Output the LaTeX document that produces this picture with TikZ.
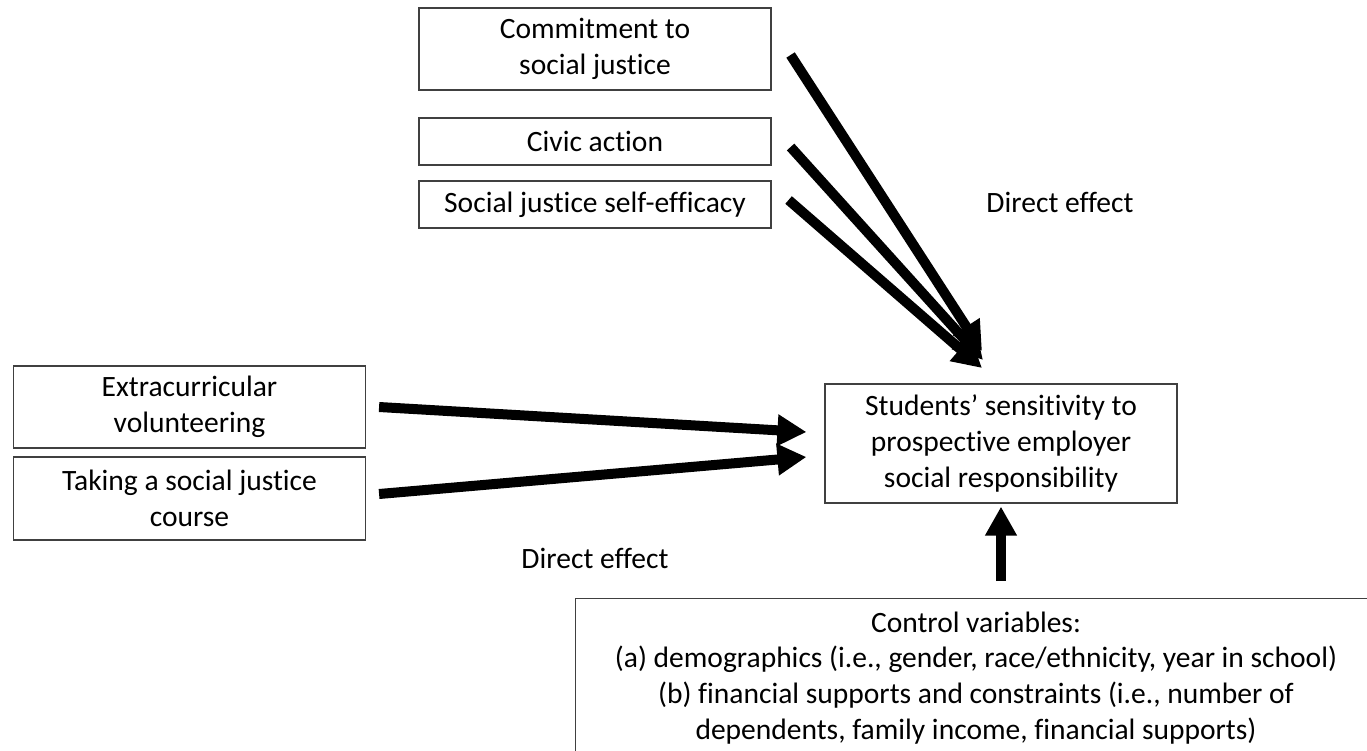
\documentclass[tikz,border=0pt]{standalone}
\usepackage{fontspec}
\setmainfont[Ligatures={NoCommon}]{Carlito}
\usetikzlibrary{arrows.meta}
\begin{document}
\begin{tikzpicture}[x=0.02cm, y=-0.02cm,
  every node/.style={font=\fontsize{16.8pt}{20.4pt}\selectfont, inner sep=0pt},
  varbox/.style={draw=black!75, line width=0.7pt, minimum width=7.04cm, align=center},
  label/.style={align=center},
  effect/.style={line width=0.2cm, -{Triangle[length=0.58cm, width=0.6cm]}}]
\useasboundingbox (0,0) rectangle (1367,751);
\clip (0,0) rectangle (1367,751);

% predictor boxes, top column
\node[varbox, minimum height=1.64cm] (commit) at (595,49) {Commitment to\\social justice};
\node[varbox, minimum height=0.94cm] (civic) at (595,141.5) {Civic action};
\node[varbox, minimum height=0.94cm] (selfeff) at (595,204.5) {Social justice self-efficacy};

% predictor boxes, left column
\node[varbox, minimum height=1.64cm] (extra) at (189.5,407) {Extracurricular\\volunteering};
\node[varbox, minimum height=1.66cm] (course) at (189.5,498.5) {Taking a social justice\\course};

% outcome
\node[varbox, minimum height=2.38cm] (target) at (1001,443.5) {Students’ sensitivity to\\prospective employer\\social responsibility};

% controls
\node[draw=black!75, line width=0.7pt, anchor=north west, minimum width=17cm, minimum height=4cm] (ctrlbox) at (575,598) {};
\node[label] (ctrltext) at (976,678) {Control variables:\\(a) demographics (i.e., gender, race/ethnicity, year in school)\\(b) financial supports and constraints (i.e., number of\\dependents, family income, financial supports)};

% effect labels
\node[label] (lab1) at (1060,202) {Direct effect};
\node[label] (lab2) at (595,558) {Direct effect};

% arrow end points
\coordinate (s1) at ([shift={(0.38cm,-0.12cm)}]commit.east);
\coordinate (s2) at ([shift={(0.38cm,-0.11cm)}]civic.east);
\coordinate (s3) at ([shift={(0.34cm,0.09cm)}]selfeff.east);
\coordinate (t1) at (982,351);
\coordinate (t2) at (983,360);
\coordinate (t3) at (982,368);
\coordinate (s4) at ([shift={(0.26cm,0cm)}]extra.east);
\coordinate (s5) at ([shift={(0.26cm,0.09cm)}]course.east);
\coordinate (t4) at ([shift={(-0.36cm,0.23cm)}]target.west);
\coordinate (t5) at ([shift={(-0.36cm,-0.27cm)}]target.west);

\draw[effect] (s1) -- (t1);
\draw[effect] (s2) -- (t2);
\draw[effect] (s3) -- (t3);
\draw[effect] (s4) -- (t4);
\draw[effect] (s5) -- (t5);
\draw[effect] ([yshift=0.34cm]ctrlbox.north -| target.south) -- ([yshift=-0.06cm]target.south);
\end{tikzpicture}
\end{document}
